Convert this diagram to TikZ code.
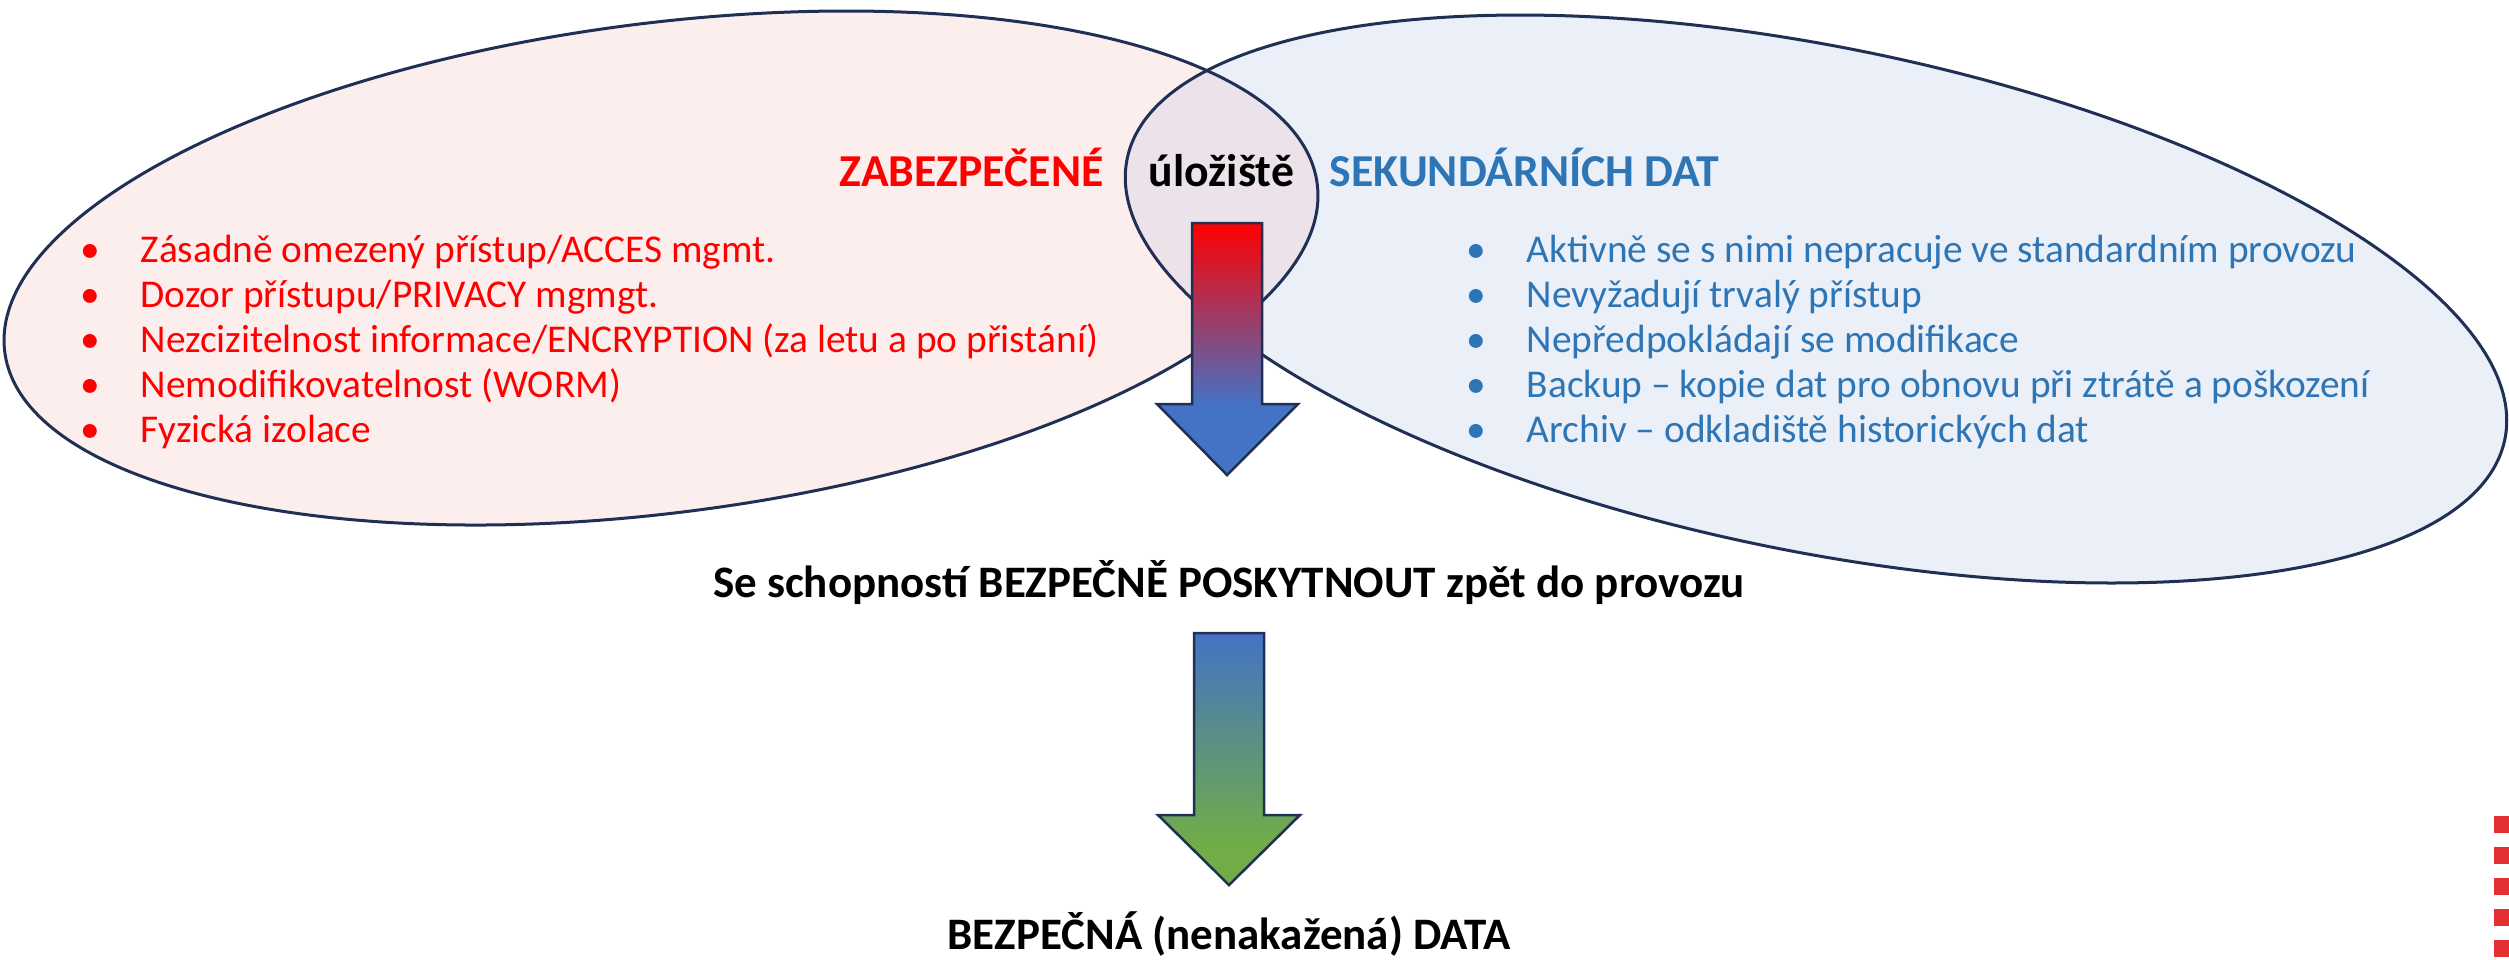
\documentclass[tikz,border=0pt]{standalone}
\usepackage{fontspec}
\setmainfont{Carlito}
\usetikzlibrary{positioning}

\definecolor{ovalline}{RGB}{31,48,84}
\definecolor{securedfill}{RGB}{253,238,238}
\definecolor{secondaryfill}{RGB}{234,239,248}
\definecolor{lensfill}{RGB}{236,226,233}
\definecolor{securedred}{RGB}{255,0,0}
\definecolor{secondaryblue}{RGB}{46,117,182}
\definecolor{arrowblue}{RGB}{68,114,196}
\definecolor{arrowgreen}{RGB}{112,173,71}
\definecolor{decored}{RGB}{226,48,52}

% path box maps to 25bp..75bp
\pgfdeclareverticalshading{redtoblue}{100bp}{color(0bp)=(arrowblue); color(39bp)=(arrowblue); color(75bp)=(securedred); color(100bp)=(securedred)}
\pgfdeclareverticalshading{bluetogreen}{100bp}{color(0bp)=(arrowgreen); color(33bp)=(arrowgreen); color(75bp)=(arrowblue); color(100bp)=(arrowblue)}

\tikzset{
    secured_oval/.style={shift={(661,268)}, rotate=7.3},
    secondary_oval/.style={shift={(1816,299)}, rotate=-11.5},
    oval_line/.style={draw=ovalline, line width=0.03cm},
    block_arrow/.style={draw=ovalline, line width=0.025cm},
    head_text/.style={font=\fontsize{13}{15}\selectfont\bfseries, anchor=base west, inner sep=0},
    item_text/.style={font=\fontsize{11.2}{13}\selectfont, anchor=base west, inner sep=0},
    result_text/.style={font=\fontsize{12.8}{15}\selectfont\bfseries, anchor=base, inner sep=0},
}
\newcommand{\bulletitem}[1]{\makebox[0.6cm][l]{\textbullet}#1}

\begin{document}
\begin{tikzpicture}[x=0.01cm, y=-0.01cm]
    \useasboundingbox (0,0) rectangle (2509,959);

    %%%%%%%%%%%%%
    % OVALS     %
    %%%%%%%%%%%%%
    \fill[secured_oval, securedfill] (0,0) ellipse [x radius=661.6, y radius=244.8];
    \fill[secondary_oval, secondaryfill] (0,0) ellipse [x radius=703, y radius=252];
    \begin{scope}
        \clip[secured_oval] (0,0) ellipse [x radius=661.6, y radius=244.8];
        \fill[secondary_oval, lensfill] (0,0) ellipse [x radius=703, y radius=252];
    \end{scope}
    \path[secured_oval, oval_line] (0,0) ellipse [x radius=661.6, y radius=244.8];
    \path[secondary_oval, oval_line] (0,0) ellipse [x radius=703, y radius=252];

    %%%%%%%%%%%%%
    % HEADINGS  %
    %%%%%%%%%%%%%
    \node (secured) [head_text, text=securedred] at (839,186) {ZABEZPEČENÉ};
    \node (storage) [head_text] at (1148,186) {úložiště};
    \node (secondary) [head_text, text=secondaryblue] at (1329,186) {SEKUNDÁRNÍCH DAT};

    %%%%%%%%%%%%%
    % ITEMS     %
    %%%%%%%%%%%%%
    \foreach \txt [count=\i] in {{Zásadně omezený přístup/ACCES mgmt.}, {Dozor přístupu/PRIVACY mgmgt.},
            {Nezcizitelnost informace/ENCRYPTION (za letu a po přistání)}, {Nemodifikovatelnost (WORM)},
            {Fyzická izolace}}
        \node (sec\i) [item_text, text=securedred] at (80,217+45*\i) {\bulletitem{\txt}};
    \foreach \txt [count=\i] in {{Aktivně se s nimi nepracuje ve standardním provozu}, {Nevyžadují trvalý přístup},
            {Nepředpokládají se modifikace}, {Backup – kopie dat pro obnovu při ztrátě a poškození},
            {Archiv – odkladiště historických dat}}
        \node (bak\i) [item_text, text=secondaryblue] at (1466,217+45*\i) {\bulletitem{\txt}};

    %%%%%%%%%%%%%
    % ARROWS    %
    %%%%%%%%%%%%%
    \shadedraw[shading=redtoblue, block_arrow] (1192,223) -- (1262,223) -- (1262,404)
        -- (1298,404) -- (1227,475) -- (1157,404) -- (1192,404) -- cycle;
    \node (provide) [result_text] at (1229,597) {Se schopností BEZPEČNĚ POSKYTNOUT zpět do provozu};
    \shadedraw[shading=bluetogreen, block_arrow] (1194,633) -- (1264,633) -- (1264,815)
        -- (1300,815) -- (1229,885) -- (1158,815) -- (1194,815) -- cycle;
    \node (safe) [result_text] at (1229,949) {BEZPEČNÁ (nenakažená) DATA};

    % corner mark
    \foreach \k in {0,...,4}
        \fill[decored] (2494,816+31*\k) rectangle (2509,833+31*\k);
\end{tikzpicture}
\end{document}
